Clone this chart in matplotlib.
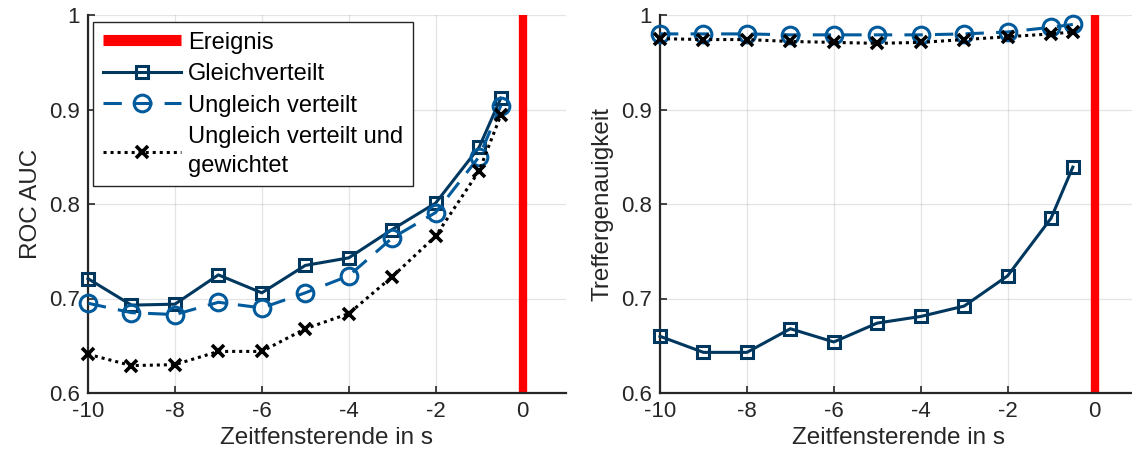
"""
ROC AUC und Treffergenauigkeit über dem Zeitfensterende (MATLAB-Stil).
"""
import matplotlib
matplotlib.use('Agg')
import matplotlib.pyplot as plt

plt.rcParams['font.family'] = ['Liberation Sans', 'DejaVu Sans']

OUTPUT_PNG = "out.png"

# Zeitfensterende in s
t = [-10, -9, -8, -7, -6, -5, -4, -3, -2, -1, -0.5]

# ROC AUC
auc_gleich = [0.721, 0.693, 0.694, 0.725, 0.706, 0.735, 0.743, 0.773, 0.801, 0.860, 0.912]
auc_ungleich = [0.695, 0.685, 0.683, 0.696, 0.690, 0.706, 0.724, 0.764, 0.791, 0.850, 0.904]
auc_gewichtet = [0.641, 0.629, 0.630, 0.644, 0.644, 0.668, 0.684, 0.723, 0.766, 0.835, 0.894]

# Treffergenauigkeit
acc_gleich = [0.660, 0.643, 0.643, 0.668, 0.654, 0.674, 0.681, 0.692, 0.724, 0.785, 0.839]
acc_ungleich = [0.980, 0.980, 0.980, 0.979, 0.979, 0.979, 0.979, 0.980, 0.982, 0.987, 0.990]
acc_gewichtet = [0.975, 0.974, 0.974, 0.972, 0.971, 0.970, 0.971, 0.974, 0.977, 0.980, 0.982]

ereignis_t = 0

C_GLEICH = '#00375F'
C_UNGLEICH = '#005A9C'
C_TEXT = '#262626'

YTICKS = [0.6, 0.7, 0.8, 0.9, 1.0]
YTICKLABELS = ['0.6', '0.7', '0.8', '0.9', '1']
XTICKS = [-10, -8, -6, -4, -2, 0]


def style_axes(ax, ylabel):
    ax.set_xlim(-10, 1)
    ax.set_ylim(0.6, 1.0)
    ax.set_xticks(XTICKS)
    ax.set_xticklabels([str(x) for x in XTICKS])
    ax.set_yticks(YTICKS)
    ax.set_yticklabels(YTICKLABELS)
    ax.grid(True, color='#262626', alpha=0.12, linewidth=0.9)
    ax.set_axisbelow(True)
    for side in ('top', 'right'):
        ax.spines[side].set_visible(False)
    for side in ('left', 'bottom'):
        ax.spines[side].set_color(C_TEXT)
        ax.spines[side].set_linewidth(1.6)
    ax.tick_params(direction='in', length=5, width=1.2, colors=C_TEXT,
                   labelsize=16, pad=6)
    ax.set_xlabel('Zeitfensterende in s', fontsize=17.5, color=C_TEXT, labelpad=3)
    ax.set_ylabel(ylabel, fontsize=17.5, color=C_TEXT, labelpad=5)


def draw(ax, g, u, w):
    ax.axvline(ereignis_t, color='#FF0000', linewidth=6, label='Ereignis', zorder=1)
    ax.plot(t, g, color=C_GLEICH, linewidth=2.2, marker='s', markersize=8.5,
            markerfacecolor='none', markeredgewidth=2.2, label='Gleichverteilt',
            clip_on=False, zorder=3)
    ax.plot(t, u, color=C_UNGLEICH, linewidth=2.2, linestyle=(0, (6, 4)),
            marker='o', markersize=12, markerfacecolor='none', markeredgewidth=2.2,
            label='Ungleich verteilt', clip_on=False, zorder=3)
    ax.plot(t, w, color='black', linewidth=2.2, linestyle=(0, (1, 1.3)),
            marker='x', markersize=8, markeredgewidth=2.6,
            label='Ungleich verteilt und\ngewichtet', clip_on=False, zorder=4)


fig = plt.figure(figsize=(11.32, 4.66), dpi=100)
W, H = 1132, 466
ax1 = fig.add_axes([88 / W, 1 - 393 / H, 478 / W, 378 / H])
ax2 = fig.add_axes([660 / W, 1 - 393 / H, 478 / W, 378 / H])

draw(ax1, auc_gleich, auc_ungleich, auc_gewichtet)
draw(ax2, acc_gleich, acc_ungleich, acc_gewichtet)
style_axes(ax1, 'ROC AUC')
style_axes(ax2, 'Treffergenauigkeit')

leg = ax1.legend(loc='upper left', bbox_to_anchor=(0.01, 0.982), fontsize=17,
                 frameon=True, fancybox=False, framealpha=1, edgecolor=C_TEXT,
                 handlelength=3.3, handletextpad=0.32, borderaxespad=0,
                 borderpad=0.42, labelspacing=0.4)
leg.get_frame().set_linewidth(1.0)
for txt in leg.get_texts():
    txt.set_color('black')
    txt.set_linespacing(1.38)
leg.get_lines()[0].set_linewidth(8)
leg.get_lines()[0].set_solid_capstyle('butt')

fig.savefig(OUTPUT_PNG, dpi=100)
plt.close(fig)
